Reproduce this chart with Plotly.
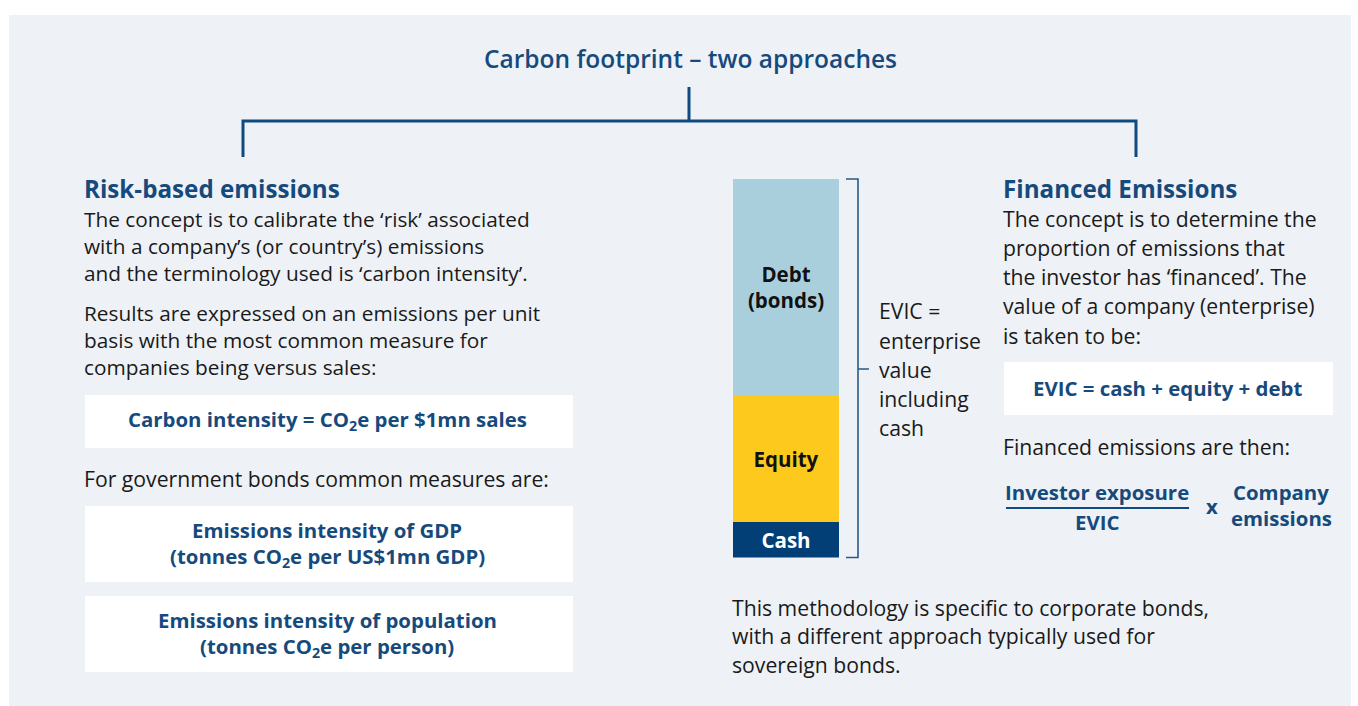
import plotly.graph_objects as go

W, H = 1358, 706

# ---------------- data ----------------
segments = ["Cash", "Equity", "Debt"]
segment_values = [9.5, 33.5, 57.0]          # share of EVIC (%)
segment_labels = ["Cash", "Equity", "Debt<br>(bonds)"]
segment_colors = ["#023f77", "#fdc91c", "#a9cfdd"]
segment_text_colors = ["#ffffff", "#111111", "#111111"]

title_text = "Carbon footprint – two approaches"
left_heading = "Risk-based emissions"
left_para1 = ["The concept is to calibrate the ‘risk’ associated",
              "with a company’s (or country’s) emissions",
              "and the terminology used is ‘carbon intensity’."]
left_para2 = ["Results are expressed on an emissions per unit",
              "basis with the most common measure for",
              "companies being versus sales:"]
box1_lines = ["Carbon intensity = CO<sub>2</sub>e per $1mn sales"]
gov_line = "For government bonds common measures are:"
box2_lines = ["Emissions intensity of GDP", "(tonnes CO<sub>2</sub>e per US$1mn GDP)"]
box3_lines = ["Emissions intensity of population", "(tonnes CO<sub>2</sub>e per person)"]
evic_lines = ["EVIC =", "enterprise", "value", "including", "cash"]
right_heading = "Financed Emissions"
right_para = ["The concept is to determine the",
              "proportion of emissions that",
              "the investor has ‘financed’. The",
              "value of a company (enterprise)",
              "is taken to be:"]
box4_lines = ["EVIC = cash + equity + debt"]
fin_line = "Financed emissions are then:"
numerator = "Investor exposure"
denominator = "EVIC"
times_sign = "x"
factor_lines = ["Company", "emissions"]
bottom_lines = ["This methodology is specific to corporate bonds,",
                "with a different approach typically used for",
                "sovereign bonds."]

# ---------------- style ----------------
NAVY = "#174a7c"
LINE = "#0f4a80"
BODY = "#1a1a1a"
PANEL = "#eef2f6"
FONT = "Open Sans"
BODY_SIZE = 21.2
BOLD_SIZE = 20.4
HEAD_SIZE = 24.2
TITLE_SIZE = 24.5


def px(x):
    return x / W


def py(y):
    return 1 - y / H


fig = go.Figure()

for name, val, lab, col, tcol in zip(segments, segment_values, segment_labels,
                                     segment_colors, segment_text_colors):
    fig.add_trace(go.Bar(
        x=["EVIC"], y=[val], name=name, width=1,
        marker=dict(color=col, line=dict(width=0)),
        text=[lab], textposition="inside", insidetextanchor="middle",
        textangle=0,
        textfont=dict(family=FONT, size=20.5, color=tcol, weight="bold"),
        hoverinfo="skip", showlegend=False,
    ))

shapes = []
# panel
shapes.append(dict(type="rect", xref="paper", yref="paper",
                   x0=px(9), x1=px(1351), y0=py(706), y1=py(15),
                   fillcolor=PANEL, line=dict(width=0), layer="below"))
# white boxes
for (x0, y0, x1, y1) in [(85, 395, 573, 448), (85, 506, 573, 582),
                         (85, 596, 573, 672), (1004, 362, 1333, 415)]:
    shapes.append(dict(type="rect", xref="paper", yref="paper",
                       x0=px(x0), x1=px(x1), y0=py(y1), y1=py(y0),
                       fillcolor="#ffffff", line=dict(width=0), layer="below"))


def path(points_list):
    segs = []
    for pts in points_list:
        s = "M " + " L ".join(f"{px(x):.5f},{py(y):.5f}" for x, y in pts)
        segs.append(s)
    return " ".join(segs)


# tree connector
shapes.append(dict(type="path", xref="paper", yref="paper",
                   path=path([[(243, 157), (243, 121), (1136, 121), (1136, 157)],
                              [(689, 121), (689, 87)]]),
                   line=dict(color=LINE, width=3)))
# bracket
shapes.append(dict(type="path", xref="paper", yref="paper",
                   path=path([[(846, 179), (858, 179), (858, 557.5), (846, 557.5)],
                              [(858, 369), (869, 369)]]),
                   line=dict(color="#2a5a88", width=1.6)))
# fraction bar
shapes.append(dict(type="line", xref="paper", yref="paper",
                   x0=px(1006), x1=px(1189), y0=py(508), y1=py(508),
                   line=dict(color=LINE, width=2)))

annotations = []


def txt(x, y, s, size=BODY_SIZE, color=BODY, bold=False, anchor="left", weight=None):
    annotations.append(dict(
        x=px(x), y=py(y), xref="paper", yref="paper", text=s, showarrow=False,
        xanchor=anchor, yanchor="middle", align=anchor, borderpad=0, borderwidth=0,
        font=dict(family=FONT, size=size, color=color,
                  weight=weight if weight else ("bold" if bold else "normal")),
    ))


txt(690, 59, title_text, size=TITLE_SIZE, color=NAVY, anchor="center", weight=600)
txt(84, 188, left_heading, size=HEAD_SIZE, color=NAVY, bold=True)
# multi-line paragraphs (line pitch = 1.3 em)
txt(84, 245.5, "<br>".join(left_para1), size=20.8)
txt(84, 340, "<br>".join(left_para2), size=20.8)
txt(327, 420, box1_lines[0], size=BOLD_SIZE, color=NAVY, bold=True, anchor="center")
txt(84, 478, gov_line)
for i, s in enumerate(box2_lines):
    txt(327, 530 + 26.5 * i, s, size=BOLD_SIZE, color=NAVY, bold=True, anchor="center")
for i, s in enumerate(box3_lines):
    txt(327, 620 + 26.5 * i, s, size=BOLD_SIZE, color=NAVY, bold=True, anchor="center")
for i, s in enumerate(evic_lines):
    txt(879, 311 + 29.2 * i, s)
txt(1003, 188, right_heading, size=HEAD_SIZE, color=NAVY, bold=True)
for i, s in enumerate(right_para):
    txt(1003, 218 + 29.3 * i, s)
txt(1167, 388, box4_lines[0], size=BOLD_SIZE, color=NAVY, bold=True, anchor="center")
txt(1003, 446, fin_line)
txt(1097, 492, numerator, size=BOLD_SIZE, color=NAVY, bold=True, anchor="center")
txt(1097, 522, denominator, size=BOLD_SIZE, color=NAVY, bold=True, anchor="center")
txt(1212, 506, times_sign, size=BOLD_SIZE, color=NAVY, bold=True, anchor="center")
for i, s in enumerate(factor_lines):
    txt(1281, 492 + 25.5 * i, s, size=BOLD_SIZE, color=NAVY, bold=True, anchor="center")
for i, s in enumerate(bottom_lines):
    txt(732, 607 + 28.5 * i, s)

fig.update_layout(
    width=W, height=H,
    margin=dict(l=0, r=0, t=0, b=0),
    paper_bgcolor="#ffffff", plot_bgcolor="rgba(0,0,0,0)",
    barmode="stack", bargap=0,
    xaxis=dict(domain=[px(733), px(839)], range=[-0.5, 0.5], visible=False,
               fixedrange=True),
    yaxis=dict(domain=[py(557.5), py(179)], range=[0, sum(segment_values)],
               visible=False, fixedrange=True),
    shapes=shapes, annotations=annotations,
    showlegend=False,
    font=dict(family=FONT),
)

fig.write_html("out.html", config={"displayModeBar": False},
               post_script="document.body.style.margin='0';document.body.style.overflow='hidden';")
